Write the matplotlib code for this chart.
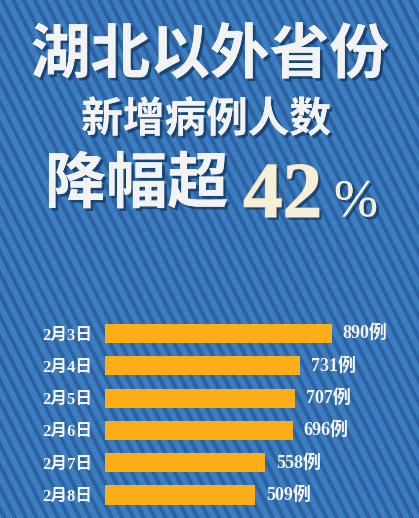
import numpy as np
import matplotlib
matplotlib.use("Agg")
import matplotlib.pyplot as plt
import matplotlib.patheffects as pe

# ---- data ----
dates = ["2月3日", "2月4日", "2月5日", "2月6日", "2月7日", "2月8日"]
cases = [890, 731, 707, 696, 558, 509]
unit = "例"
title1 = "湖北以外省份"
title2 = "新增病例人数"
title3 = "降幅超"
pct_num = "42"
pct_sign = "%"

W, H = 419, 518
fig = plt.figure(figsize=(W / 100, H / 100), dpi=100)

# ---- striped background ----
bg = fig.add_axes([0, 0, 1, 1])
yy, xx = np.mgrid[0:H, 0:W]
phase = np.mod(xx - 0.5 * yy, 10.7) / 10.7
light = np.array([60, 126, 192]) / 255
dark = np.array([44, 98, 163]) / 255
mask = (phase < 0.42)[..., None]
img = np.where(mask, dark, light)
bg.imshow(img, extent=[0, W, H, 0], interpolation="bilinear", aspect="auto")
bg.set_xlim(0, W)
bg.set_ylim(H, 0)
bg.axis("off")

cjk = ["Noto Sans CJK SC", "DejaVu Sans"]
shadow = [pe.withSimplePatchShadow(offset=(2, -2), shadow_rgbFace="#123a66", alpha=0.8), pe.Normal()]

bg.text(210, 56, title1, fontsize=43, family=cjk, weight="heavy", color="#f3f3f3",
        ha="center", va="center", path_effects=shadow)
bg.text(206, 120, title2, fontsize=30, family=cjk, weight="heavy", color="#f3f3f3",
        ha="center", va="center", path_effects=shadow)
bg.text(45, 185, title3, fontsize=44, family=cjk, weight="heavy", color="#f3f3f3",
        ha="left", va="center", path_effects=shadow)
bg.text(243, 217, pct_num, fontsize=57, family=["Liberation Serif"], weight="bold",
        color="#f5eed8", ha="left", va="baseline",
        path_effects=[pe.withSimplePatchShadow(offset=(2, -2), shadow_rgbFace="#123a66", alpha=0.8),
                      pe.withStroke(linewidth=1, foreground="#d9c48a"), pe.Normal()])
bg.text(334, 216, pct_sign, fontsize=38, family=["Liberation Serif"], weight="normal",
        color="#f5eed8", ha="left", va="baseline",
        path_effects=[pe.withSimplePatchShadow(offset=(2, -2), shadow_rgbFace="#123a66", alpha=0.8),
                      pe.Normal()])

# ---- bar chart ----
OFFSET = 238          # visual baseline offset (bars start left of zero)
PX_PER_UNIT = 0.201
ax_left_px, ax_right_px = 105, 419
span = (ax_right_px - ax_left_px) / PX_PER_UNIT
row_px = 32.3
top_px = 333.5 - row_px / 2
n = len(dates)
ax = fig.add_axes([ax_left_px / W, 1 - (top_px + n * row_px) / H,
                   (ax_right_px - ax_left_px) / W, n * row_px / H])
ax.patch.set_alpha(0)
y = np.arange(n)
vals = np.array(cases)
ax.barh(y, vals + OFFSET, left=-OFFSET, height=0.59, color="#fbae17")
ax.set_xlim(-OFFSET, -OFFSET + span)
ax.set_ylim(n - 0.5, -0.5)
ax.set_yticks(y)
ax.set_yticklabels(dates, family=["Liberation Serif", "Noto Sans CJK SC"],
                   weight="bold", fontsize=12, color="#f5f5f5")
ax.tick_params(axis="y", length=0, pad=9)
ax.set_xticks([])
for s in ax.spines.values():
    s.set_visible(False)
for i, v in enumerate(vals):
    ax.annotate(f"{v}{unit}", xy=(v, i), xytext=(8, 0), textcoords="offset points",
                ha="left", va="center", fontsize=13, weight="bold",
                family=["Liberation Serif", "Noto Sans CJK SC"], color="#f5f5f5")

fig.savefig("out.png", dpi=100)
